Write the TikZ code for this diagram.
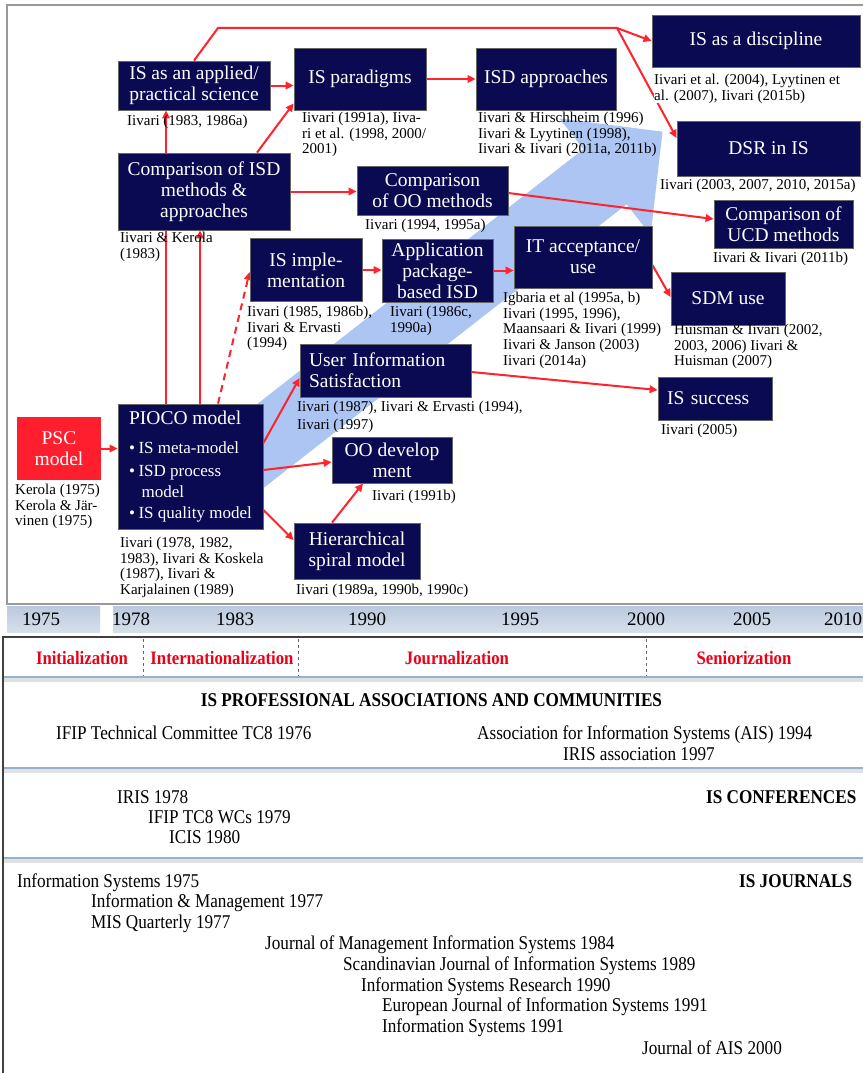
\documentclass[tikz,border=0pt]{standalone}
\usepackage{fontspec}
\setmainfont{Liberation Serif}
\newfontfamily\narrowfont[FakeStretch=0.88]{Liberation Serif}
\usetikzlibrary{arrows.meta}
\definecolor{navy}{RGB}{10,10,82}
\definecolor{arrowred}{RGB}{255,35,45}
\definecolor{pscred}{RGB}{255,30,45}
\definecolor{bandblue}{RGB}{172,197,243}
\definecolor{bartop}{RGB}{186,201,221}
\definecolor{barbot}{RGB}{214,224,236}
\definecolor{sepblue}{RGB}{150,176,208}
\definecolor{phasered}{RGB}{235,0,25}
\newcommand\boxfont{\fontsize{19.5}{21}\selectfont}
\newcommand\bulletfont{\fontsize{17}{21}\selectfont}
\newcommand\citefont{\fontsize{15}{15.6}\selectfont}
\newcommand\lowfont{\narrowfont\fontsize{19.5}{21}\selectfont}
\newcommand\bul{\textbullet\hspace{3.5pt}}
\pgfdeclarelayer{bg}
\pgfdeclarelayer{mid}
\pgfsetlayers{bg,mid,main}
\tikzset{
  box/.style={draw=black!60, line width=0.8pt, fill=navy, text=white, font=\boxfont, align=center, inner sep=0pt},
  cite/.style={anchor=north west, inner sep=0pt, font=\citefont, align=left},
  link/.style={draw=arrowred, line width=2pt, -{Triangle[length=8pt,width=7.5pt]}},
  low/.style={anchor=base west, inner sep=0pt, font=\lowfont},
  lowhead/.style={anchor=base west, inner sep=0pt, font=\lowfont\bfseries},
  phase/.style={anchor=base, inner sep=0pt, font=\narrowfont\bfseries\fontsize{19}{21}\selectfont, text=phasered},
  year/.style={anchor=base, inner sep=0pt, font=\fontsize{19}{21}\selectfont},
  sep/.style={draw=sepblue, line width=1.8pt},
  sepshadow/.style={draw=black!12, line width=4pt},
  phasedash/.style={draw=black!60, dashed, line width=0.8pt}
}
\begin{document}
\begin{tikzpicture}[x=1pt,y=-1pt]
\useasboundingbox (0,0) rectangle (862,1073);

% ---------- boxes ----------
\node[box, minimum width=152pt, minimum height=49pt] (applied) at (194,85.5) {IS as an applied/\\practical science};
\node[box, minimum width=132pt, minimum height=62pt] (paradigms) at (360,79) {IS paradigms};
\node[box, minimum width=140pt, minimum height=62pt] (approaches) at (546,79) {ISD approaches};
\node[box, minimum width=208pt, minimum height=52pt] (discipline) at (756,41) {IS as a discipline};
\node[box, minimum width=183pt, minimum height=55pt] (dsr) at (768.5,148.5) {DSR in IS};
\node[box, minimum width=172pt, minimum height=77pt] (compisd) at (204,191.5) {Comparison of ISD\\methods \&\\approaches};
\node[box, minimum width=151pt, minimum height=49pt] (compoo) at (432.5,190.5) {Comparison\\of OO methods};
\node[box, minimum width=139pt, minimum height=48pt] (compucd) at (783.5,224) {Comparison of\\UCD methods};
\node[box, minimum width=112pt, minimum height=63pt] (isimpl) at (306,270) {IS imple-\\mentation};
\node[box, minimum width=111pt, minimum height=63pt] (apppkg) at (437.5,270.5) {Application\\package-\\based ISD};
\node[box, minimum width=138pt, minimum height=62pt] (itacc) at (583,257) {IT acceptance/\\use};
\node[box, minimum width=114pt, minimum height=53pt] (sdm) at (728,298.5) {SDM use};
\node[box, minimum width=171pt, minimum height=53pt, text width=153pt, align=left] (uis) at (385.5,370.5) {User Information\\Satisfaction};
\node[box, minimum width=114pt, minimum height=43pt, text width=96pt, align=left] (issuccess) at (715,398.5) {IS success};
\node[box, minimum width=120pt, minimum height=46pt] (oodev) at (392,460) {OO develop\\ment};
\node[box, minimum width=126pt, minimum height=56pt] (hier) at (357,551) {Hierarchical\\spiral model};
\node[box, minimum width=145pt, minimum height=125pt, align=left] (pioco) at (190.5,466.5)
  {PIOCO model\\[8pt]{\bulletfont\bul IS meta-model}\\[2pt]{\bulletfont\bul ISD process}\\{\bulletfont\hspace*{12.5pt}model}\\{\bulletfont\bul IS quality model}};
\node[box, fill=pscred, draw=none, minimum width=84pt, minimum height=63pt] (psc) at (59,448.5) {PSC\\model};

% ---------- citations ----------
\node[cite] (c1) at (127,114.5) {\strut Iivari (1983, 1986a)};
\node[cite] (c2) at (302,111.5) {\strut Iivari (1991a), Iiva-\\ri et al. (1998, 2000/\\2001)};
\node[cite] (c3) at (478,111.5) {\strut Iivari \& Hirschheim (1996)\\Iivari \& Lyytinen (1998),\\Iivari \& Iivari (2011a, 2011b)};
\node[cite, fill=white] (c4) at (654,73.5) {\strut Iivari et al. (2004), Lyytinen et\\al. (2007), Iivari (2015b)};
\node[cite] (c5) at (660,178.5) {\strut Iivari (2003, 2007, 2010, 2015a)};
\node[cite] (c6) at (120,231.5) {\strut Iivari \& Kerola\\(1983)};
\node[cite] (c7) at (365,218.5) {\strut Iivari (1994, 1995a)};
\node[cite] (c8) at (713,251.5) {\strut Iivari \& Iivari (2011b)};
\node[cite] (c9) at (247,305.5) {\strut Iivari (1985, 1986b),\\Iivari \& Ervasti\\(1994)};
\node[cite] (c10) at (390,305.5) {\strut Iivari (1986c,\\1990a)};
\node[cite] (c11) at (503,291.5) {\strut Igbaria et al (1995a, b)\\Iivari (1995, 1996),\\Maansaari \& Iivari (1999)\\Iivari \& Janson (2003)\\Iivari (2014a)};
\node[cite] (c12) at (674,323.5) {\strut Huisman \& Iivari (2002,\\2003, 2006) Iivari \&\\Huisman (2007)};
\node[cite] (c13) at (297,400.5) {\strut Iivari (1987), Iivari \& Ervasti (1994),\\[2pt]Iivari (1997)};
\node[cite] (c14) at (661,423.5) {\strut Iivari (2005)};
\node[cite] (c15) at (372,489.5) {\strut Iivari (1991b)};
\node[cite] (c16) at (296,583.5) {\strut Iivari (1989a, 1990b, 1990c)};
\node[cite] (c17) at (120,536.5) {\strut Iivari (1978, 1982,\\1983), Iivari \& Koskela\\(1987), Iivari \&\\Karjalainen (1989)};
\node[cite] (c18) at (15,483.5) {\strut Kerola (1975)\\Kerola \& J\"ar-\\vinen (1975)};

% ---------- background band and frame ----------
\begin{pgfonlayer}{bg}
  \fill[white] (0,0) rectangle (862,1073);
  \fill[bandblue] (209.9,441) -- (583.4,149.1) -- (559.4,118.4) -- (662.5,131.7)
     -- (650.6,235) -- (626.6,204.3) -- (253.1,496.2) -- cycle;
  \draw[black!40, line width=2pt] (7,5) rectangle (872,604);
\end{pgfonlayer}

% ---------- connectors ----------
\begin{pgfonlayer}{mid}
  \coordinate (p1) at ([xshift=-24.5pt]pioco.north);
  \coordinate (p2) at ([xshift=9.5pt]pioco.north);
  \coordinate (topL) at (218,28);
  \coordinate (split) at (617,28);
  \draw[link] (psc.east) -- (psc.east -| pioco.west);
  \draw[link] (p1) -- (p1 |- applied.south);
  \draw[link] (p2) -- (p2 |- compisd.south);
  \draw[link, dash pattern=on 7pt off 5pt] ([xshift=27.5pt]pioco.north) -- ([yshift=-2pt]isimpl.west);
  \draw[link] ([xshift=53pt]compisd.north) -- ([yshift=7pt]paradigms.south west);
  \draw[link] (applied.east) -- (applied.east -| paradigms.west);
  \draw[draw=arrowred, line width=2pt] (applied.north) -- (topL) -- (split);
  \draw[link] (split) -- (discipline.west);
  \draw[link] (split) -- ([yshift=10.5pt]dsr.west);
  \draw[link] (paradigms.east) -- (approaches.west);
  \draw[link] (compisd.east) -- (compisd.east -| compoo.west);
  \draw[link] ([yshift=-2.5pt]compoo.east) -- ([yshift=5pt]compucd.west);
  \draw[link] (isimpl.east) -- (isimpl.east -| apppkg.west);
  \draw[link] (apppkg.east) -- (apppkg.east -| itacc.west);
  \draw[link] ([yshift=-8pt]itacc.east) -- ([yshift=1.5pt]sdm.west);
  \draw[link] ([yshift=23.5pt]pioco.east) -- ([yshift=-7.5pt]uis.west);
  \draw[link] ([yshift=-1.5pt]uis.east) -- ([yshift=8.5pt]issuccess.west);
  \draw[link] ([yshift=-3.5pt]pioco.east) -- ([yshift=-2pt]oodev.west);
  \draw[link] ([yshift=-43.5pt]pioco.east) -- ([yshift=11pt]hier.west);
  \draw[link] ([xshift=-25pt]hier.north) -- ([xshift=-29pt]oodev.south);
\end{pgfonlayer}

% ---------- timeline bar ----------
\shade[top color=bartop, bottom color=barbot] (7,606) rectangle (100,632);
\shade[top color=bartop, bottom color=barbot] (113,606) rectangle (872,632);
\node[year] (y1975) at (41,625) {1975};
\node[year] (y1978) at (131,625) {1978};
\node[year] (y1983) at (235,625) {1983};
\node[year] (y1990) at (367,625) {1990};
\node[year] (y1995) at (520,625) {1995};
\node[year] (y2000) at (646,625) {2000};
\node[year] (y2005) at (752,625) {2005};
\node[year] (y2010) at (843,625) {2010};

% ---------- lower panel ----------
\draw[sepshadow] (3,680) -- (872,680);
\draw[sepshadow] (3,771) -- (872,771);
\draw[sepshadow] (3,861) -- (872,861);
\draw[sep] (3,677) -- (872,677);
\draw[sep] (3,768) -- (872,768);
\draw[sep] (3,858) -- (872,858);
\draw[black!75, line width=1.2pt] (3,637) rectangle (872,1080);
\draw[phasedash] (143,639) -- (143,676);
\draw[phasedash] (298,639) -- (298,676);
\draw[phasedash] (646,639) -- (646,676);

\node[phase] (ph1) at (82,664) {Initialization};
\node[phase] (ph2) at (222,664) {Internationalization};
\node[phase] (ph3) at (457,664) {Journalization};
\node[phase] (ph4) at (744,664) {Seniorization};

\node[anchor=base, inner sep=0pt, font=\lowfont\bfseries] (assochead) at (431.5,706) {IS PROFESSIONAL ASSOCIATIONS AND COMMUNITIES};
\node[low] (ifip) at (56,739) {IFIP Technical Committee TC8 1976};
\node[low] (ais) at (477,739) {Association for Information Systems (AIS) 1994};
\node[low] (irisassoc) at (563,760) {IRIS association 1997};

\node[low] (iris) at (117,803) {IRIS 1978};
\node[low] (ifipwc) at (148,823) {IFIP TC8 WCs 1979};
\node[low] (icis) at (169,843) {ICIS 1980};
\node[lowhead] (confhead) at (706,803) {IS CONFERENCES};

\node[low] (j1) at (17,887) {Information Systems 1975};
\node[lowhead] (jhead) at (739,887) {IS JOURNALS};
\node[low] (j2) at (91,907) {Information \& Management 1977};
\node[low] (j3) at (91,928) {MIS Quarterly 1977};
\node[low] (j4) at (265,949) {Journal of Management Information Systems 1984};
\node[low] (j5) at (343,970) {Scandinavian Journal of Information Systems 1989};
\node[low] (j6) at (361,991) {Information Systems Research 1990};
\node[low] (j7) at (382,1011) {European Journal of Information Systems 1991};
\node[low] (j8) at (382,1032) {Information Systems 1991};
\node[low] (j9) at (642,1054) {Journal of AIS 2000};
\end{tikzpicture}
\end{document}
